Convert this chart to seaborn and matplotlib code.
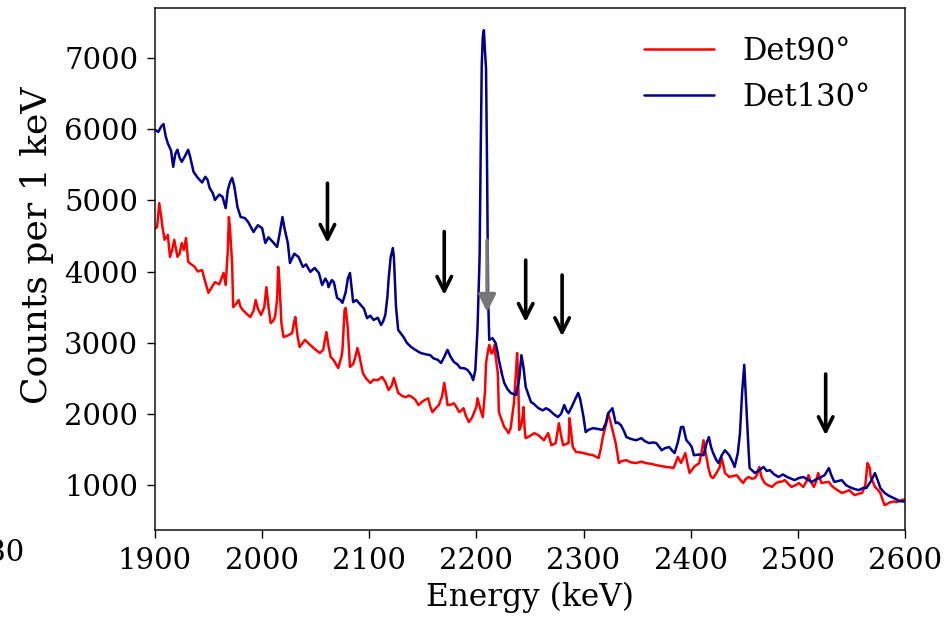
import numpy as np
import pandas as pd
import matplotlib
matplotlib.use('Agg')
import matplotlib.pyplot as plt
from matplotlib.lines import Line2D
import seaborn as sns

# --- Spectrum values (energy in keV, counts per 1 keV) ---
energy_det130 = [
    1900, 1903, 1906, 1908, 1910, 1912, 1915, 1917, 1919, 1921, 1923, 1925, 1928, 1931, 1933, 1936,
    1940, 1944, 1947, 1949, 1951, 1954, 1956, 1960, 1963, 1966, 1968, 1970, 1972, 1974, 1977, 1980,
    1984, 1987, 1992, 1996, 2000, 2003, 2006, 2010, 2014, 2016, 2019, 2021, 2024, 2026, 2030, 2034,
    2038, 2041, 2045, 2049, 2053, 2056, 2059, 2061, 2062, 2065, 2067, 2070, 2073, 2075, 2078, 2080,
    2082, 2084, 2085, 2088, 2092, 2095, 2098, 2101, 2104, 2108, 2111, 2113, 2115, 2117, 2118, 2120,
    2122, 2123, 2125, 2127, 2132, 2135, 2139, 2143, 2148, 2152, 2157, 2160, 2164, 2167, 2170, 2173,
    2176, 2179, 2182, 2185, 2189, 2192, 2195, 2197, 2199, 2201, 2203, 2204, 2205, 2206, 2207, 2208,
    2209, 2210, 2211, 2212, 2215, 2218, 2220, 2221, 2224, 2226, 2229, 2232, 2237, 2240, 2242, 2244,
    2246, 2249, 2251, 2253, 2255, 2258, 2262, 2265, 2268, 2272, 2276, 2279, 2282, 2284, 2286, 2289,
    2292, 2295, 2297, 2300, 2302, 2305, 2309, 2313, 2318, 2321, 2323, 2327, 2330, 2332, 2335, 2338,
    2340, 2344, 2349, 2354, 2357, 2361, 2365, 2368, 2373, 2376, 2380, 2383, 2385, 2388, 2391, 2393,
    2396, 2399, 2401, 2403, 2408, 2412, 2415, 2417, 2419, 2421, 2424, 2426, 2429, 2432, 2436, 2439,
    2441, 2444, 2446, 2448, 2450, 2452, 2454, 2455, 2460, 2464, 2468, 2471, 2474, 2478, 2482, 2486,
    2490, 2494, 2497, 2501, 2505, 2509, 2513, 2517, 2520, 2525, 2529, 2531, 2534, 2538, 2541, 2545,
    2548, 2552, 2557, 2561, 2564, 2568, 2572, 2575, 2577, 2581, 2585, 2588, 2592, 2595, 2600,
]
counts_det130 = [
    5990, 5960, 6040, 6070, 5900, 5800, 5700, 5470, 5650, 5710, 5600, 5540, 5620, 5710, 5600, 5400,
    5315, 5250, 5330, 5290, 5175, 5100, 5005, 5080, 5050, 4890, 5145, 5250, 5315, 5200, 4905, 4765,
    4750, 4695, 4555, 4650, 4610, 4400, 4480, 4415, 4345, 4500, 4765, 4600, 4400, 4120, 4250, 4205,
    4065, 4100, 3995, 4050, 3980, 3810, 3900, 3850, 3780, 3880, 3850, 3630, 3600, 3560, 3710, 3900,
    3980, 3700, 3570, 3600, 3530, 3480, 3345, 3380, 3320, 3350, 3250, 3300, 3390, 3650, 3880, 4200,
    4330, 4200, 3500, 3180, 3080, 3000, 2940, 2900, 2855, 2840, 2825, 2780, 2760, 2715, 2800, 2900,
    2800, 2730, 2700, 2645, 2640, 2615, 2550, 2475, 2615, 3180, 4200, 5650, 6900, 7300, 7390, 7100,
    6850, 5400, 3600, 3040, 3065, 2995, 2850, 2757, 2550, 2435, 2350, 2295, 2265, 2500, 2825, 2650,
    2380, 2250, 2165, 2150, 2120, 2080, 2050, 2080, 2055, 2000, 1955, 2000, 2125, 2050, 2010, 2100,
    2200, 2295, 2200, 1955, 1745, 1780, 1800, 1790, 1775, 1880, 2010, 2080, 1870, 1880, 1840, 1750,
    1675, 1650, 1630, 1660, 1620, 1590, 1600, 1590, 1490, 1520, 1535, 1480, 1450, 1600, 1815, 1820,
    1630, 1580, 1535, 1420, 1430, 1420, 1600, 1675, 1535, 1450, 1350, 1310, 1420, 1490, 1420, 1330,
    1255, 1450, 1730, 2300, 2690, 2095, 1500, 1240, 1170, 1210, 1255, 1200, 1210, 1150, 1115, 1150,
    1115, 1090, 1070, 1100, 1115, 1080, 1045, 1080, 1100, 1140, 1240, 1150, 1045, 1060, 1070, 1000,
    975, 950, 930, 960, 960, 1050, 1170, 1050, 960, 890, 850, 830, 800, 775, 770,
]

energy_det90 = [
    1900, 1902, 1904, 1906, 1907, 1909, 1912, 1914, 1916, 1918, 1921, 1923, 1925, 1927, 1929, 1931,
    1934, 1937, 1940, 1944, 1947, 1950, 1953, 1956, 1960, 1964, 1966, 1968, 1969, 1970, 1972, 1973,
    1976, 1978, 1980, 1982, 1986, 1989, 1992, 1994, 1996, 1999, 2002, 2004, 2006, 2008, 2010, 2012,
    2014, 2015, 2016, 2018, 2020, 2024, 2028, 2030, 2031, 2033, 2035, 2038, 2040, 2044, 2047, 2050,
    2054, 2057, 2060, 2062, 2064, 2067, 2071, 2074, 2075, 2077, 2078, 2080, 2082, 2085, 2087, 2089,
    2091, 2094, 2097, 2101, 2104, 2108, 2112, 2115, 2118, 2121, 2123, 2125, 2127, 2131, 2134, 2137,
    2140, 2143, 2146, 2150, 2155, 2157, 2159, 2162, 2165, 2168, 2170, 2172, 2173, 2176, 2179, 2182,
    2184, 2186, 2188, 2190, 2193, 2196, 2198, 2200, 2201, 2204, 2206, 2208, 2209, 2211, 2212, 2214,
    2215, 2217, 2218, 2220, 2221, 2224, 2226, 2228, 2230, 2232, 2235, 2237, 2238, 2239, 2240, 2242,
    2243, 2244, 2245, 2246, 2250, 2254, 2258, 2263, 2267, 2270, 2274, 2277, 2279, 2281, 2284, 2286,
    2287, 2288, 2290, 2293, 2297, 2300, 2305, 2309, 2314, 2316, 2318, 2321, 2323, 2325, 2327, 2330,
    2333, 2336, 2340, 2344, 2349, 2354, 2358, 2363, 2368, 2372, 2377, 2381, 2384, 2388, 2391, 2393,
    2395, 2397, 2399, 2403, 2408, 2410, 2412, 2414, 2417, 2419, 2421, 2424, 2427, 2429, 2431, 2432,
    2436, 2440, 2443, 2446, 2449, 2451, 2454, 2457, 2460, 2462, 2464, 2466, 2469, 2472, 2476, 2479,
    2482, 2485, 2488, 2491, 2494, 2498, 2501, 2503, 2505, 2508, 2510, 2512, 2515, 2517, 2519, 2521,
    2522, 2526, 2529, 2531, 2534, 2538, 2541, 2545, 2548, 2550, 2553, 2557, 2560, 2563, 2565, 2567,
    2568, 2570, 2572, 2575, 2577, 2579, 2581, 2584, 2586, 2590, 2592, 2595, 2597, 2600,
]
counts_det90 = [
    4600, 4625, 4960, 4750, 4625, 4445, 4515, 4205, 4300, 4445, 4205, 4250, 4400, 4300, 4470, 4135,
    4100, 4065, 4000, 4020, 3850, 3700, 3780, 3850, 3820, 3980, 3810, 4300, 4765, 4600, 4120, 3500,
    3550, 3600, 3500, 3460, 3400, 3360, 3450, 3600, 3480, 3390, 3500, 3780, 3500, 3275, 3300, 3360,
    3600, 4065, 3900, 3275, 3080, 3100, 3135, 3300, 3360, 3100, 2940, 3000, 3040, 2980, 2940, 2900,
    2855, 2900, 3150, 2950, 2800, 2750, 2645, 2800, 2900, 3460, 3490, 3200, 2660, 2700, 2800, 2925,
    2800, 2575, 2500, 2435, 2480, 2475, 2520, 2450, 2335, 2400, 2505, 2400, 2295, 2250, 2235, 2260,
    2235, 2200, 2125, 2180, 2220, 2100, 2025, 2080, 2125, 2250, 2435, 2250, 2125, 2130, 2150, 2080,
    2025, 2050, 2080, 1980, 1885, 1950, 2025, 2100, 2220, 2050, 1955, 2300, 2715, 2900, 2970, 2850,
    2855, 2970, 2800, 2575, 2025, 1900, 1815, 1780, 1730, 1800, 2150, 2600, 2855, 2500, 1775, 1850,
    1955, 2095, 1800, 1660, 1690, 1730, 1700, 1630, 1730, 1560, 1590, 1870, 1700, 1560, 1580, 1590,
    1940, 1800, 1535, 1465, 1460, 1450, 1430, 1420, 1380, 1500, 1675, 1850, 2010, 1900, 1775, 1590,
    1310, 1340, 1350, 1320, 1310, 1330, 1310, 1300, 1280, 1270, 1255, 1250, 1240, 1395, 1310, 1380,
    1450, 1300, 1170, 1255, 1310, 1450, 1630, 1450, 1210, 1115, 1100, 1170, 1250, 1380, 1250, 1170,
    1115, 1130, 1140, 1080, 1030, 1080, 1115, 1090, 1100, 1150, 1255, 1120, 1030, 1000, 975, 1020,
    1045, 1050, 1070, 1020, 975, 1000, 1030, 1000, 975, 1050, 1140, 1050, 975, 1050, 1170, 1080,
    1030, 1040, 1045, 1000, 960, 920, 890, 910, 930, 900, 860, 880, 890, 1000, 1310, 1250,
    1115, 1050, 975, 930, 890, 800, 720, 740, 760, 770, 760, 780, 790, 800,
]

# arrows marking transitions (energy, top of shaft, tip)
arrow_energy = [2061, 2170, 2246, 2280, 2526]
arrow_top = [5240, 4560, 4160, 3950, 2560]
arrow_tip = [4400, 3670, 3290, 3090, 1700]
grey_arrow = (2210, 4440, 3430)

df = pd.concat([
    pd.DataFrame({'Energy': energy_det90, 'Counts': counts_det90, 'Detector': 'Det90°'}),
    pd.DataFrame({'Energy': energy_det130, 'Counts': counts_det130, 'Detector': 'Det130°'}),
], ignore_index=True)

sns.set_style('ticks')
plt.rcParams['font.family'] = ['DejaVu Serif']
plt.rcParams['font.size'] = 20
plt.rcParams['text.color'] = 'black'
plt.rcParams['axes.labelcolor'] = 'black'
plt.rcParams['xtick.color'] = 'black'
plt.rcParams['ytick.color'] = 'black'

fig = plt.figure(figsize=(9.53, 6.17), dpi=100)
ax = fig.add_axes([0.1626, 0.141, 0.787, 0.846])

sns.lineplot(data=df, x='Energy', y='Counts', hue='Detector',
             palette={'Det90°': '#ff0000', 'Det130°': '#00008b'},
             linewidth=1.8, ax=ax, legend=False, sort=False)

# arrows
for xa, yt, yp in zip(arrow_energy, arrow_top, arrow_tip):
    ax.annotate('', xy=(xa, yp), xytext=(xa, yt),
                arrowprops=dict(arrowstyle='->', color='black', lw=2.6,
                                mutation_scale=26, shrinkA=0, shrinkB=0))
ax.annotate('', xy=(grey_arrow[0], grey_arrow[2]), xytext=(grey_arrow[0], grey_arrow[1]),
            arrowprops=dict(arrowstyle='-|>', color='#777777', lw=2.6,
                            mutation_scale=26, shrinkA=0, shrinkB=0))

ax.set_xlim(1900, 2600)
ax.set_ylim(370, 7700)
ax.set_xticks([1900, 2000, 2100, 2200, 2300, 2400, 2500, 2600])
ax.set_yticks([1000, 2000, 3000, 4000, 5000, 6000, 7000])
ax.tick_params(axis='both', direction='out', length=6, width=1, labelsize=21, pad=6)
ax.set_xlabel('Energy (keV)', fontsize=22.5, labelpad=5)
ax.set_ylabel('Counts per 1 keV', fontsize=26)
ax.yaxis.set_label_coords(-0.135, 0.545)
for s in ax.spines.values():
    s.set_color('#111111')
    s.set_linewidth(1.1)

handles = [Line2D([], [], color='#ff0000', lw=1.8), Line2D([], [], color='#00008b', lw=1.8)]
ax.legend(handles, ['Det90°', 'Det130°'], loc='upper right', frameon=False,
          fontsize=22, handlelength=2.3, handletextpad=0.9, labelspacing=0.5,
          bbox_to_anchor=(0.99, 1.0))

# leftover tick label from the neighbouring panel, clipped at the edge
fig.text(25 / 953, 1 - 553 / 617, '1880', ha='right', va='center', fontsize=21)

fig.savefig('out.png', dpi=100)
